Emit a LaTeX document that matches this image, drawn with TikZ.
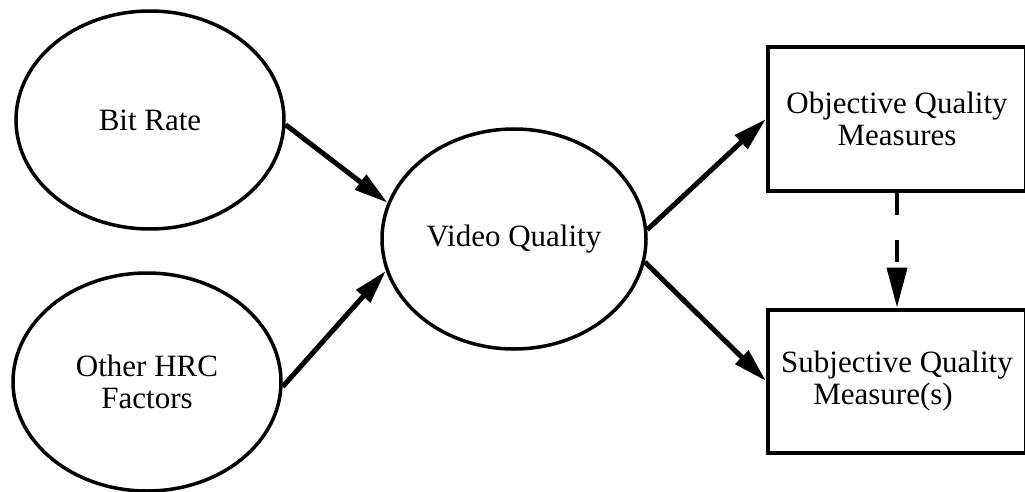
\documentclass[tikz,border=0pt]{standalone}
\usepackage{fontspec}
\setmainfont{Liberation Serif}
\usetikzlibrary{arrows.meta,
                positioning,
                shapes.geometric}

\begin{document}
\begin{tikzpicture}[x=1pt, y=-1pt,
    node distance = 115pt,
      base/.style = {draw, line width=3.5pt, align=center,
                     font=\fontsize{31}{32}\selectfont},
    factor/.style = {base, ellipse, minimum width=268pt, minimum height=218pt},
   measure/.style = {base, rectangle, line width=4pt,
                     minimum width=258pt, minimum height=143pt},
   every edge/.style = {draw, line width=5pt, -{Triangle[length=34pt,width=18pt]}}
                    ]
\useasboundingbox (0,0) rectangle (1025,492);
\node [factor] (bit) at (150,120)  {Bit Rate};
\node [factor] (hrc) at (147,382)  {Other HRC\\ Factors};
\node [factor, minimum width=264pt, minimum height=220pt]
               (video) at (514,239) {Video Quality};
\node [measure] (obj) at (897,119) {Objective Quality\\ Measures};
\node [measure, below=of obj] (subj) {Subjective Quality\\ Measure(s)\hspace*{28pt}};
%%
\draw (bit.-2)    edge (video.164)
      (hrc.-2)    edge (video.194)
      (video.4)   edge (obj.west)
      (video.-10) edge (subj.west);
\draw [line width=4pt, dash pattern=on 22pt off 25pt,
       -{Triangle[length=40pt,width=20pt]}] (obj.south) -- (subj.north);
\end{tikzpicture}
\end{document}
